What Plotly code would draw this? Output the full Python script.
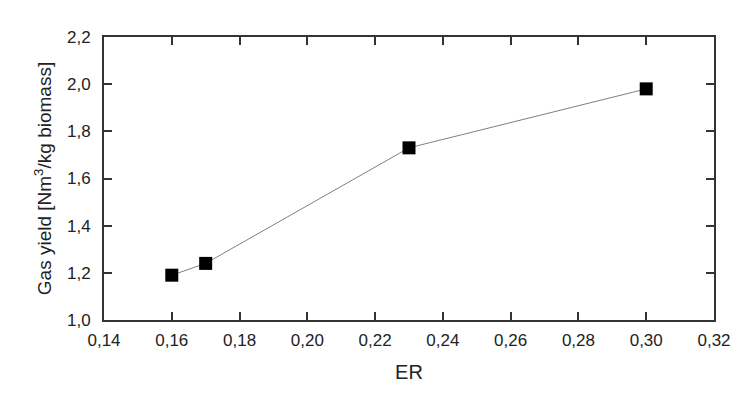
import plotly.graph_objects as go

er = [0.16, 0.17, 0.23, 0.30]
gas_yield = [1.19, 1.24, 1.73, 1.98]
x_ticks = [0.14, 0.16, 0.18, 0.20, 0.22, 0.24, 0.26, 0.28, 0.30, 0.32]
y_ticks = [1.0, 1.2, 1.4, 1.6, 1.8, 2.0, 2.2]

fig = go.Figure()
fig.add_trace(go.Scatter(
    x=er, y=gas_yield, mode="lines+markers",
    line=dict(color="#808080", width=1),
    marker=dict(symbol="square", size=13, color="black"),
    showlegend=False,
))

font = dict(family="Liberation Sans, Arial, sans-serif", color="#222222")
axis_common = dict(
    showline=True, linecolor="#333333", linewidth=2, mirror="ticks",
    ticks="inside", ticklen=8, tickwidth=1.5, tickcolor="#333333",
    showgrid=False, zeroline=False,
    tickfont=dict(size=17, **font),
)
fig.update_xaxes(range=[0.14, 0.32], tickvals=x_ticks, tickformat=".2f",
                 ticklabelstandoff=4,
                 title=dict(text="ER", font=dict(size=20, **font), standoff=16),
                 **axis_common)
fig.update_yaxes(range=[1.0, 2.2], tickvals=y_ticks, tickformat=".1f",
                 ticklabelstandoff=8,
                 title=dict(text="Gas yield [Nm<sup>3</sup>/kg biomass]", font=dict(size=19, **font), standoff=10),
                 **axis_common)
fig.update_layout(
    width=735, height=384,
    margin=dict(l=96, r=18, t=29, b=68),
    plot_bgcolor="white", paper_bgcolor="white",
    separators=",.",
)
fig.write_html("out.html")
